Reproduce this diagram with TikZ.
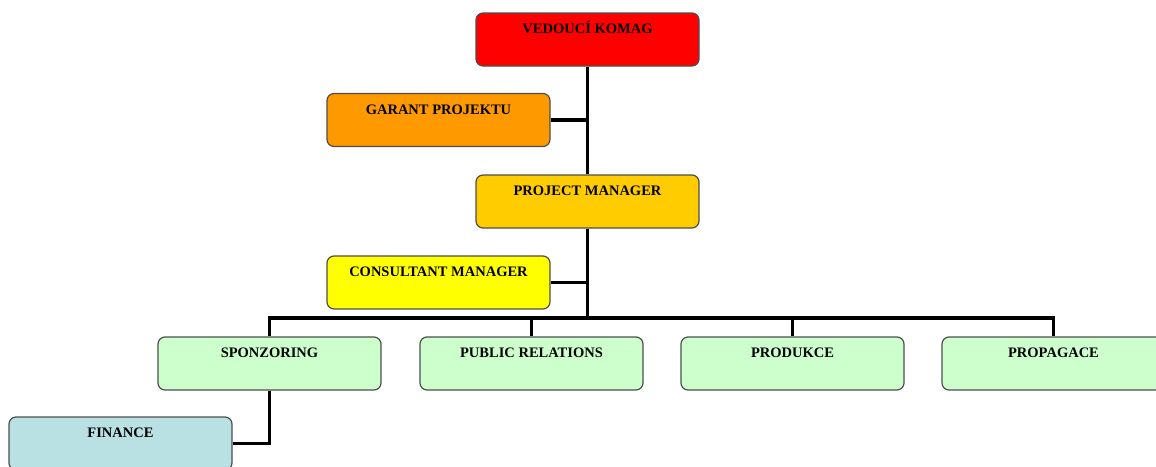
\documentclass[tikz,border=0pt]{standalone}
\usepackage{fontspec}
\setmainfont{Liberation Serif}
\definecolor{kred}{HTML}{FF0000}
\definecolor{korange}{HTML}{FF9900}
\definecolor{kgold}{HTML}{FFCC00}
\definecolor{kyellow}{HTML}{FFFF00}
\definecolor{kgreen}{HTML}{CCFFCC}
\definecolor{kblue}{HTML}{B9E0E2}
\definecolor{kframe}{HTML}{4D4D4D}
\tikzset{
    unit/.style={draw=kframe, line width=1.2pt, rounded corners=7pt,
        minimum width=223pt, inner xsep=4pt, inner ysep=3.5pt,
        text height=17pt, text depth=29pt,
        font=\fontsize{14.5}{16}\selectfont\bfseries},
    link/.style={line width=3.5pt}
}
\begin{document}
\begin{tikzpicture}[x=1pt,y=-1pt]
    \useasboundingbox (0,0) rectangle (1156,466);
    \clip (0,0) rectangle (1156,466);
    %% boxes
    \node[unit,fill=kred] (vedouci) at (587.5,39.5) {VEDOUCÍ KOMAG};
    \node[unit,fill=korange] (garant) at (438.5,120) {GARANT PROJEKTU};
    \node[unit,fill=kgold] (pm) at (587.5,201.5) {PROJECT MANAGER};
    \node[unit,fill=kyellow] (consultant) at (438.5,282.5) {CONSULTANT MANAGER};
    \node[unit,fill=kgreen] (sponz) at (269.5,363.5) {SPONZORING};
    \node[unit,fill=kgreen] (pr) at (531.5,363.5) {PUBLIC RELATIONS};
    \node[unit,fill=kgreen] (prod) at (792.5,363.5) {PRODUKCE};
    \node[unit,fill=kgreen] (prop) at (1053.5,363.5) {PROPAGACE};
    \node[unit,fill=kblue] (finance) at (120.5,443.5) {FINANCE};
    \coordinate (bus) at (587.5,318);
    %% lines
    \draw[link] (vedouci.south) -- (pm.north);
    \draw[link] (garant.east) -- (garant.east -| pm.north);
    \draw[link] (pm.south) -- (bus);
    \draw[link] (consultant.east) -- (consultant.east -| bus);
    \draw[link] (sponz.north) |- (bus) -| (prop.north);
    \draw[link] (pr.north) -- (pr.north |- bus);
    \draw[link] (prod.north) -- (prod.north |- bus);
    \draw[link] (sponz.south) |- (finance.east);
\end{tikzpicture}
\end{document}
